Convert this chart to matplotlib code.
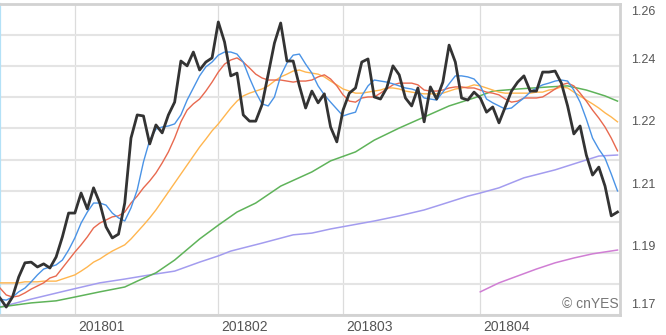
import matplotlib
matplotlib.use('Agg')
import matplotlib.pyplot as plt
from matplotlib.transforms import offset_copy, blended_transform_factory

# ---- data ----
close = [1.1749, 1.1723, 1.1752, 1.1810, 1.1851, 1.1853, 1.1839, 1.1848, 1.1836, 1.1868,
         1.1926, 1.1995, 1.1995, 1.2053, 1.2007, 1.2068, 1.2024, 1.1955, 1.1923, 1.1934,
         1.2024, 1.2212, 1.2279, 1.2276, 1.2195, 1.2250, 1.2227, 1.2279, 1.2316, 1.2435,
         1.2421, 1.2461, 1.2409, 1.2432, 1.2444, 1.2548, 1.2490, 1.2392, 1.2400, 1.2279,
         1.2261, 1.2261, 1.2308, 1.2397, 1.2487, 1.2545, 1.2435, 1.2435, 1.2363, 1.2299,
         1.2348, 1.2314, 1.2340, 1.2244, 1.2201, 1.2293, 1.2342, 1.2357, 1.2432, 1.2441,
         1.2331, 1.2325, 1.2357, 1.2421, 1.2395, 1.2328, 1.2305, 1.2357, 1.2259, 1.2360,
         1.2325, 1.2374, 1.2481, 1.2432, 1.2328, 1.2322, 1.2345, 1.2328, 1.2287, 1.2302,
         1.2256, 1.2302, 1.2348, 1.2374, 1.2392, 1.2348, 1.2348, 1.2403, 1.2403, 1.2406,
         1.2371, 1.2305, 1.2224, 1.2247, 1.2163, 1.2105, 1.2128, 1.2073, 1.1987, 1.1998]

ma5 = [1.1746, 1.1743, 1.1752, 1.1767, 1.1778, 1.1796, 1.1816, 1.1833, 1.1839, 1.1845,
       1.1859, 1.1888, 1.1923, 1.1966, 1.1998, 1.2024, 1.2024, 1.2018, 1.1995, 1.1981,
       1.1972, 1.2010, 1.2062, 1.2143, 1.2206, 1.2238, 1.2244, 1.2247, 1.2253, 1.2279,
       1.2322, 1.2357, 1.2392, 1.2418, 1.2432, 1.2452, 1.2461, 1.2461, 1.2455, 1.2432,
       1.2386, 1.2345, 1.2311, 1.2305, 1.2331, 1.2392, 1.2429, 1.2452, 1.2455, 1.2426,
       1.2400, 1.2363, 1.2337, 1.2316, 1.2296, 1.2276, 1.2282, 1.2287, 1.2334, 1.2363,
       1.2380, 1.2377, 1.2374, 1.2369, 1.2363, 1.2357, 1.2354, 1.2348, 1.2328, 1.2325,
       1.2322, 1.2345, 1.2369, 1.2392, 1.2392, 1.2389, 1.2383, 1.2363, 1.2325, 1.2314,
       1.2305, 1.2296, 1.2299, 1.2314, 1.2328, 1.2345, 1.2357, 1.2366, 1.2371, 1.2377,
       1.2380, 1.2377, 1.2351, 1.2316, 1.2267, 1.2212, 1.2180, 1.2154, 1.2108, 1.2059]

ma10 = [1.1778, 1.1758, 1.1752, 1.1755, 1.1764, 1.1775, 1.1784, 1.1793, 1.1807, 1.1813,
        1.1836, 1.1859, 1.1882, 1.1903, 1.1926, 1.1952, 1.1966, 1.1975, 1.1984, 1.1987,
        1.1998, 1.2024, 1.2044, 1.2068, 1.2088, 1.2111, 1.2140, 1.2172, 1.2212, 1.2259,
        1.2293, 1.2311, 1.2325, 1.2348, 1.2374, 1.2403, 1.2426, 1.2438, 1.2444, 1.2432,
        1.2415, 1.2397, 1.2386, 1.2380, 1.2380, 1.2380, 1.2377, 1.2374, 1.2377, 1.2377,
        1.2380, 1.2389, 1.2395, 1.2383, 1.2363, 1.2337, 1.2319, 1.2316, 1.2328, 1.2331,
        1.2331, 1.2342, 1.2354, 1.2366, 1.2371, 1.2371, 1.2371, 1.2366, 1.2351, 1.2348,
        1.2348, 1.2351, 1.2357, 1.2360, 1.2360, 1.2357, 1.2357, 1.2351, 1.2345, 1.2342,
        1.2337, 1.2325, 1.2316, 1.2319, 1.2328, 1.2328, 1.2328, 1.2331, 1.2342, 1.2354,
        1.2366, 1.2371, 1.2363, 1.2342, 1.2319, 1.2293, 1.2270, 1.2244, 1.2212, 1.2175]

ma20 = [1.1793, 1.1793, 1.1793, 1.1793, 1.1796, 1.1796, 1.1796, 1.1798, 1.1798, 1.1798,
        1.1804, 1.1810, 1.1816, 1.1827, 1.1839, 1.1853, 1.1862, 1.1874, 1.1885, 1.1894,
        1.1903, 1.1920, 1.1940, 1.1960, 1.1981, 1.2004, 1.2030, 1.2056, 1.2082, 1.2108,
        1.2134, 1.2160, 1.2186, 1.2209, 1.2233, 1.2253, 1.2276, 1.2299, 1.2319, 1.2334,
        1.2342, 1.2348, 1.2354, 1.2363, 1.2377, 1.2389, 1.2397, 1.2406, 1.2409, 1.2403,
        1.2400, 1.2397, 1.2389, 1.2377, 1.2366, 1.2354, 1.2348, 1.2342, 1.2342, 1.2345,
        1.2348, 1.2351, 1.2357, 1.2357, 1.2354, 1.2348, 1.2345, 1.2342, 1.2340, 1.2340,
        1.2340, 1.2342, 1.2348, 1.2354, 1.2357, 1.2360, 1.2366, 1.2363, 1.2357, 1.2351,
        1.2345, 1.2342, 1.2342, 1.2342, 1.2342, 1.2342, 1.2345, 1.2345, 1.2351, 1.2354,
        1.2360, 1.2357, 1.2345, 1.2334, 1.2322, 1.2311, 1.2299, 1.2285, 1.2273, 1.2259]

ma60_idx = [0, 5, 9, 12, 16, 20, 22, 25, 28, 32, 35, 38, 41, 45, 50, 53, 57, 60, 64, 68,
            72, 76, 79, 83, 88, 91, 94, 97, 99]
ma60 = [1.1723, 1.1735, 1.1741, 1.1752, 1.1767, 1.1781, 1.1798, 1.1822, 1.1859, 1.1920,
        1.1960, 1.1998, 1.2024, 1.2073, 1.2114, 1.2146, 1.2172, 1.2206, 1.2241, 1.2273,
        1.2305, 1.2328, 1.2348, 1.2354, 1.2360, 1.2363, 1.2351, 1.2334, 1.2319]

ma120_idx = [0, 5, 11, 16, 20, 24, 28, 32, 35, 37, 42, 47, 50, 53, 60, 64, 68, 71, 75, 77,
             80, 84, 89, 93, 96, 99]
ma120 = [1.1723, 1.1746, 1.1772, 1.1793, 1.1804, 1.1816, 1.1827, 1.1853, 1.1871, 1.1885,
         1.1908, 1.1932, 1.1937, 1.1949, 1.1972, 1.1987, 1.2004, 1.2021, 1.2044, 1.2053,
         1.2068, 1.2097, 1.2120, 1.2143, 1.2160, 1.2163]

ma240_idx = [77, 80, 83, 86, 89, 92, 95, 99]
ma240 = [1.1767, 1.1793, 1.1813, 1.1833, 1.1851, 1.1865, 1.1877, 1.1888]

month_idx = [12, 35, 55, 77]
month_labels = ['201801', '201802', '201803', '201804']
y_label_vals = [1.17, 1.188, 1.206, 1.224, 1.242, 1.26]
y_labels = ['1.17', '1.19', '1.21', '1.22', '1.24', '1.26']
y_min, y_max = 1.17, 1.26

# ---- figure ----
plt.rcParams['font.family'] = ['Liberation Sans', 'DejaVu Sans']
fig = plt.figure(figsize=(6.66, 3.35), dpi=100)
fig.patch.set_facecolor('white')
ax = fig.add_axes([0.0, 20 / 335, 620 / 666, 311 / 335])
ax.set_facecolor('white')

x = list(range(len(close)))
ax.plot(ma240_idx, ma240, color='#d07ed4', lw=1.1, zorder=3)
ax.plot(ma120_idx, ma120, color='#a39cef', lw=1.1, zorder=3)
ax.plot(ma60_idx, ma60, color='#5fb35a', lw=1.1, zorder=3)
ax.plot(x, ma20, color='#ffb64f', lw=1.0, zorder=4)
ax.plot(x, ma10, color='#e8694f', lw=1.0, zorder=4)
ax.plot(x, ma5, color='#4a93e6', lw=1.0, zorder=5)
ax.plot(x, close, color='#333333', lw=2.0, zorder=6)

ax.set_xlim(0, 99.4)
ax.set_ylim(y_min, y_max)

# grid
grid_levels = [y_min + 0.009 * k for k in range(11)]
ax.set_yticks(grid_levels)
ax.set_xticks(month_idx)
ax.tick_params(length=0, labelleft=False, labelbottom=False)
ax.yaxis.grid(True, color='#e4e4e4', lw=1.5, zorder=0)
ax.xaxis.grid(True, color='#dcdcdc', lw=0.9, zorder=0)
ax.set_axisbelow(True)

for side in ['top', 'right', 'bottom']:
    ax.spines[side].set_color('#d2d2d2')
    ax.spines[side].set_linewidth(2.0)
ax.spines['left'].set_color('#b3e1f7')
ax.spines['left'].set_linewidth(1.6)

# y labels on the right
ytrans = blended_transform_factory(ax.transAxes, ax.transData)
for i, (v, lab) in enumerate(zip(y_label_vals, y_labels)):
    if i == len(y_labels) - 1:
        dy = -8
    elif i == 0:
        dy = 10
    else:
        dy = 6
    t = offset_copy(ytrans, fig=fig, x=11, y=dy, units='dots')
    ax.text(1.0, v, lab, transform=t, ha='left', va='center',
            fontsize=9, color='#555555', clip_on=False)

# x labels
xtrans = blended_transform_factory(ax.transData, ax.transAxes)
for m, lab in zip(month_idx, month_labels):
    t = offset_copy(xtrans, fig=fig, x=3, y=-12, units='dots')
    ax.text(m, 0.0, lab, transform=t, ha='left', va='center',
            fontsize=10, color='#555555', clip_on=False)

# watermark
ax.text(0.997, 0.036, '\u00a9 cnYES', transform=ax.transAxes, ha='right', va='center',
        fontsize=10, color='#777777', zorder=7)

fig.savefig('out.png', dpi=100, facecolor='white')
